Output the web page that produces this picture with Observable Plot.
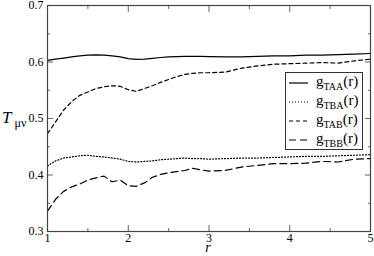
<!DOCTYPE html>
<html>
<head>
<meta charset="utf-8">
<script src="https://cdn.jsdelivr.net/npm/d3@7"></script>
<script src="https://cdn.jsdelivr.net/npm/@observablehq/plot@0.6"></script>
<style>
  body { margin: 0; background: #fff; }
  #chart { position: relative; width: 374px; height: 256px; }
  #legend { position: absolute; left: 285px; top: 72px; width: 76px; height: 76px;
    background: #fff; border: 1px solid #333; font-family: "Liberation Serif"; }
  #legend svg { position: absolute; left: 0; top: 0; overflow: visible; }
</style>
</head>
<body>
<div id="chart"><div id="legend"></div></div>
<script>
const r = [1.0,1.1,1.2,1.3,1.4,1.5,1.6,1.7,1.8,1.9,2.0,2.1,2.2,2.3,2.4,2.5,2.6,2.7,2.8,2.9,3.0,3.2,3.4,3.6,3.8,4.0,4.2,4.4,4.6,4.8,5.0];
const gTAA = [0.603,0.605,0.607,0.609,0.611,0.612,0.6125,0.612,0.611,0.609,0.606,0.6045,0.605,0.6065,0.608,0.609,0.6095,0.610,0.610,0.610,0.6095,0.609,0.609,0.610,0.611,0.611,0.612,0.612,0.613,0.614,0.615];
const gTBA = [0.416,0.425,0.430,0.432,0.434,0.435,0.433,0.432,0.430,0.428,0.424,0.423,0.424,0.425,0.427,0.428,0.429,0.430,0.429,0.429,0.428,0.429,0.430,0.430,0.431,0.432,0.433,0.433,0.434,0.435,0.436];
const gTAB = [0.473,0.494,0.515,0.530,0.541,0.547,0.553,0.556,0.558,0.557,0.551,0.548,0.553,0.558,0.564,0.569,0.574,0.578,0.580,0.581,0.581,0.582,0.589,0.593,0.596,0.597,0.598,0.599,0.598,0.602,0.605];
const gTBB = [0.336,0.357,0.371,0.379,0.384,0.391,0.395,0.398,0.388,0.391,0.381,0.380,0.386,0.396,0.401,0.404,0.406,0.408,0.412,0.409,0.407,0.408,0.414,0.417,0.420,0.420,0.421,0.424,0.423,0.428,0.429];

const seriesNames = ["TAA", "TBA", "TAB", "TBB"];
const seriesValues = [gTAA, gTBA, gTAB, gTBB];
const dashes = ["none", "1,2", "4,3", "7,4"];

const xMajor = [1, 2, 3, 4, 5];
const xMinor = [1.5, 2.5, 3.5, 4.5];
const yMajor = [0.3, 0.4, 0.5, 0.6, 0.7];
const yMinor = [0.35, 0.45, 0.55, 0.65];

const rows = [];
seriesNames.forEach((name, i) => {
  r.forEach((rv, j) => rows.push({series: name, r: rv, v: seriesValues[i][j]}));
});

const blank = () => "";
const marks = [];
seriesNames.forEach((name, i) => {
  marks.push(Plot.line(rows.filter(d => d.series === name), {
    x: "r", y: "v", stroke: "black", strokeWidth: 1.2,
    strokeDasharray: dashes[i] === "none" ? null : dashes[i]
  }));
});
marks.push(
  Plot.axisX(xMajor, {anchor: "bottom", tickSize: -6, tickFormat: blank, stroke: "#666"}),
  Plot.axisX(xMinor, {anchor: "bottom", tickSize: -3, tickFormat: blank, stroke: "#666"}),
  Plot.axisX(xMajor, {anchor: "top", tickSize: -6, tickFormat: blank, stroke: "#666"}),
  Plot.axisX(xMinor, {anchor: "top", tickSize: -3, tickFormat: blank, stroke: "#666"}),
  Plot.axisY(yMajor, {anchor: "left", tickSize: -6, tickFormat: blank, stroke: "#666"}),
  Plot.axisY(yMinor, {anchor: "left", tickSize: -3, tickFormat: blank, stroke: "#666"}),
  Plot.axisY(yMajor, {anchor: "right", tickSize: -6, tickFormat: blank, stroke: "#666"}),
  Plot.axisY(yMinor, {anchor: "right", tickSize: -3, tickFormat: blank, stroke: "#666"}),
  Plot.axisX(xMajor, {anchor: "bottom", tickSize: 0, tickPadding: 2, tickFormat: d => String(d), fill: "black"}),
  Plot.axisY(yMajor, {anchor: "left", tickSize: 0, tickPadding: 4, tickFormat: d3.format(".1f"), fill: "black"}),
  Plot.frame({stroke: "#444", strokeWidth: 1.2})
);

const plot = Plot.plot({
  width: 374,
  height: 256,
  marginLeft: 47,
  marginRight: 4,
  marginTop: 5,
  marginBottom: 25,
  style: {fontFamily: "Liberation Serif", fontSize: "12px", background: "white", color: "black", overflow: "visible"},
  x: {domain: [1, 5], label: null},
  y: {domain: [0.3, 0.7], label: null},
  marks
});
document.getElementById("chart").insertBefore(plot, document.getElementById("legend"));

const svg = d3.select(plot);
// axis titles
const yl = svg.append("text").attr("x", 2).attr("y", 123).attr("text-anchor", "start")
  .attr("font-family", "Liberation Serif").attr("fill", "black");
yl.append("tspan").attr("font-size", "17px").attr("font-style", "italic").text("T");
yl.append("tspan").attr("font-size", "12px").attr("dx", 3).attr("dy", 4).text("μν");
svg.append("text").attr("x", 208).attr("y", 252).attr("text-anchor", "middle")
  .attr("font-family", "Liberation Serif").attr("font-style", "italic").attr("font-size", "14px")
  .attr("fill", "black").text("r");

// legend (inline SVG samples and labels)
const lsvg = d3.select("#legend").append("svg").attr("width", 76).attr("height", 76);
const rowY = [10, 29, 48, 67];
seriesNames.forEach((name, i) => {
  lsvg.append("line").attr("x1", 3).attr("x2", 22).attr("y1", rowY[i]).attr("y2", rowY[i])
    .attr("stroke", "black").attr("stroke-width", 1.2)
    .attr("stroke-dasharray", dashes[i] === "none" ? null : dashes[i]);
  const t = lsvg.append("text").attr("x", 30).attr("y", rowY[i] + 3).attr("text-anchor", "start")
    .attr("font-family", "Liberation Serif").attr("font-size", "15px").attr("fill", "black");
  t.append("tspan").text("g");
  t.append("tspan").attr("font-size", "10px").attr("dy", 4).text(name);
  t.append("tspan").attr("dy", -4).text("(r)");
});
</script>
</body>
</html>
